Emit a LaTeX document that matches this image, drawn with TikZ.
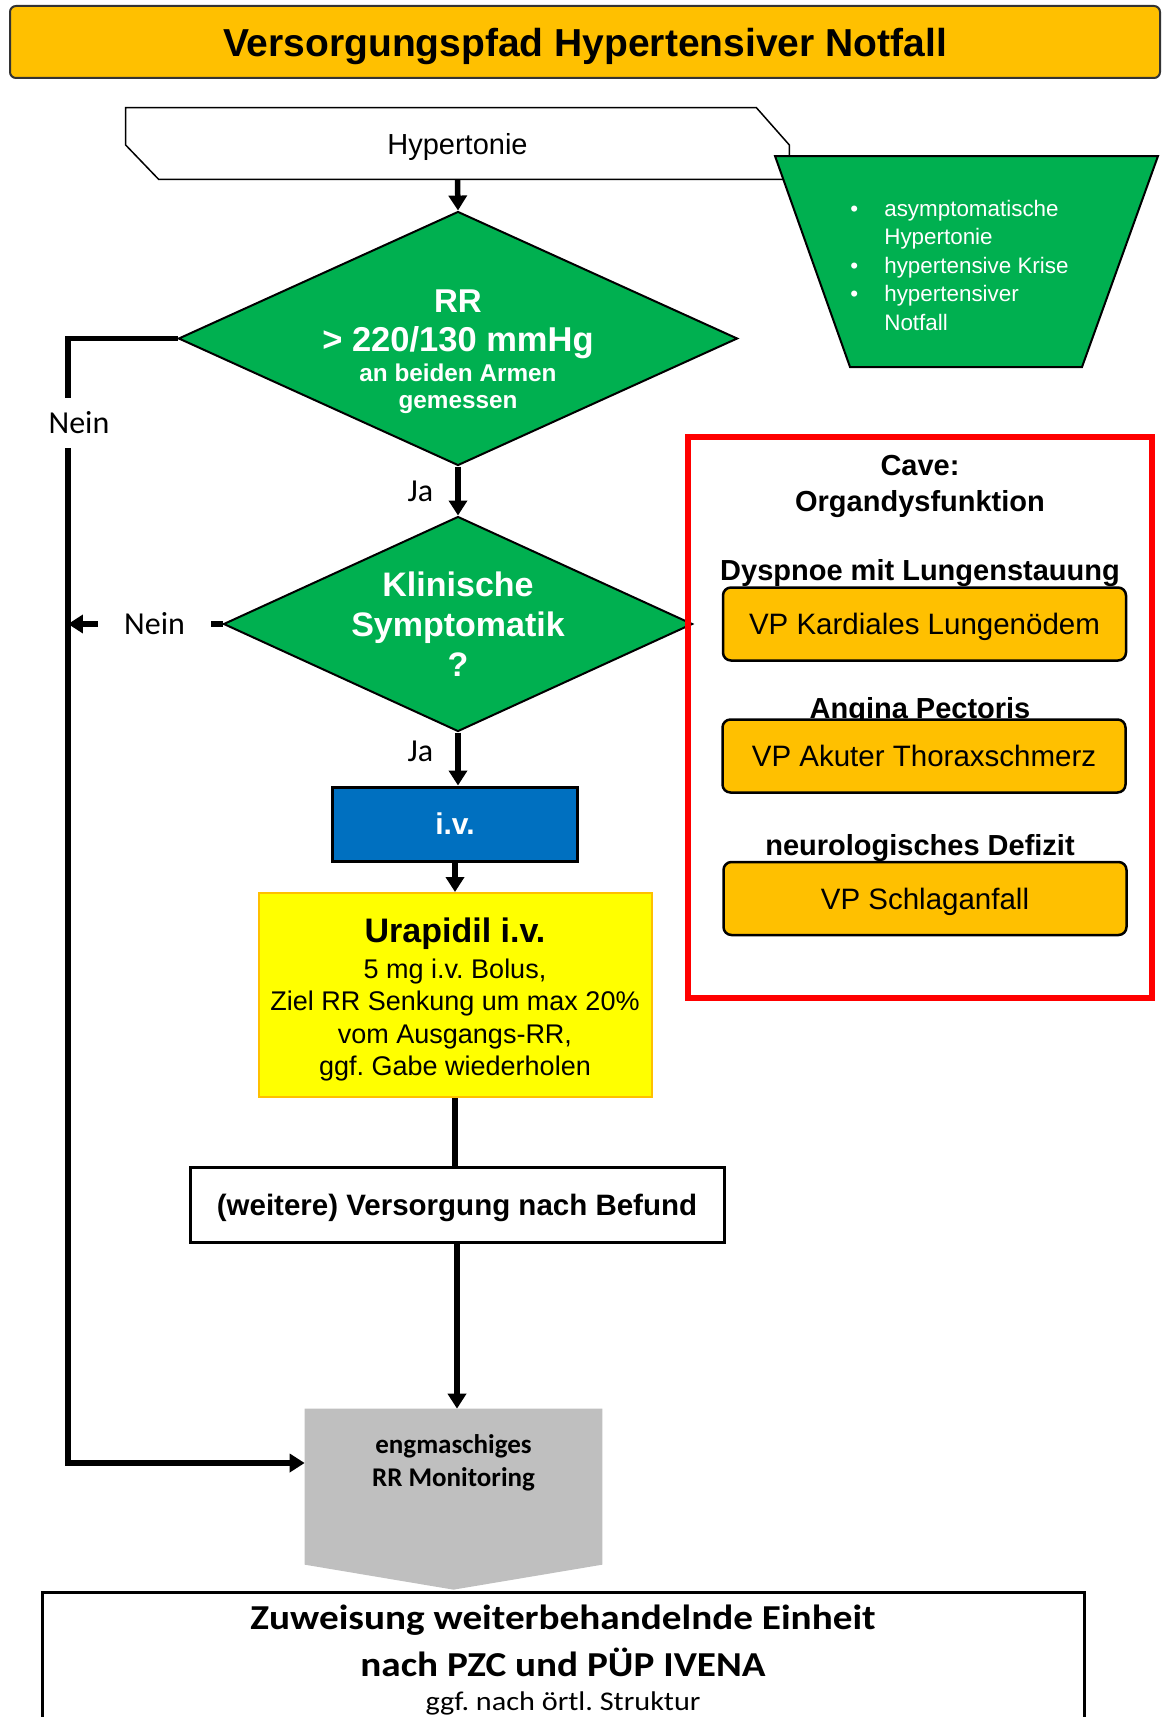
\documentclass[tikz,border=0pt]{standalone}
\usepackage{fontspec}
\setmainfont{Liberation Sans}
\newfontfamily\calibri{Carlito}
\newfontfamily\calibriwide[FakeStretch=1.12]{Carlito}
\usepackage{tikz}
\usetikzlibrary{shapes.geometric, arrows.meta, calc, backgrounds}
\frenchspacing
\newlength{\px}
\setlength{\px}{0.02cm}
\newcommand{\fpx}[2]{\fontsize{#1\px}{#2\px}\selectfont}
\definecolor{ambar}{HTML}{FFC000}
\definecolor{grn}{HTML}{00B050}
\definecolor{blu}{HTML}{0070C0}
\definecolor{gelb}{HTML}{FFFF00}
\definecolor{grau}{HTML}{BFBFBF}
\tikzstyle{decision} = [diamond, aspect=2.2, draw=black, line width=2\px, fill=grn, inner sep=0pt, text=white, align=center]
\tikzstyle{process} = [rectangle, draw=black, line width=3\px, inner sep=0pt, align=center]
\tikzstyle{vpbox} = [rectangle, rounded corners=8\px, draw=black, line width=2.5\px, fill=ambar, minimum width=403\px, minimum height=73\px, text depth=0pt, font=\fpx{29.5}{34}]
\tikzstyle{cavetext} = [font=\bfseries\fpx{29}{36}, align=center, inner sep=0pt]
\tikzstyle{lbl} = [font=\calibri\fpx{32}{36}, inner sep=2\px]
\tikzstyle{arrow} = [line width=5.5\px, ->, >={Triangle[length=8.5pt, width=10.2pt]}]
\tikzstyle{plainline} = [line width=5.5\px]

\begin{document}
\begin{tikzpicture}[x=1\px, y=-1\px]
	\useasboundingbox (0,0) rectangle (1162,1717);
	\clip (0,0) rectangle (1162,1717);
	\node (title) [rectangle, rounded corners=6\px, draw=black!80, line width=2\px, fill=ambar, minimum width=1150\px, minimum height=72\px, text depth=0pt, font=\bfseries\fpx{39}{44}] at (585,42) {Versorgungspfad Hypertensiver Notfall};
	\node (hyp) [minimum width=663\px, minimum height=71\px, inner sep=0pt, text depth=0pt, font=\fpx{29}{34}] at (457.5,143.5) {Hypertonie};
	\node (typen) [anchor=west, inner sep=0pt, align=left, text=white, font=\fpx{22.4}{28.5}] at (850,265) {\makebox[34\px][l]{\textbullet}asymptomatische\\\hspace*{34\px}Hypertonie\\\makebox[34\px][l]{\textbullet}hypertensive Krise\\\makebox[34\px][l]{\textbullet}hypertensiver\\\hspace*{34\px}Notfall};
	\node (d1) [decision, minimum width=559\px, minimum height=254\px] at (458,338.5) {};
	\node (d1t) [align=center, inner sep=0pt, text=white, font=\bfseries\fpx{34.5}{27}] at (458,352) {{\fpx{33}{27}RR}\\[12\px]> 220/130 mmHg\\[3\px]{\fpx{24.3}{27}an beiden Armen}\\{\fpx{24.3}{27}gemessen}};
	\node (d2) [decision, minimum width=469\px, minimum height=215\px, font=\bfseries\fpx{34}{40}] at (458,624) {Klinische\\Symptomatik\\?};
	\node (iv) [process, fill=blu, minimum width=245\px, minimum height=74\px, text=white, font=\bfseries\fpx{30}{34}] at (455,824) {i.v.};
	\node (ura) [process, fill=gelb, draw=ambar, line width=2\px, minimum width=393\px, minimum height=204\px, font=\fpx{27}{32.5}] at (455,995) {{\bfseries\fpx{34}{32.5}\rule{0pt}{34\px}Urapidil i.v.}\\[3.5\px]5 mg i.v. Bolus,\\Ziel RR Senkung um max 20\%\\vom Ausgangs-RR,\\ggf. Gabe wiederholen};
	\node (wei) [process, fill=white, minimum width=534\px, minimum height=75\px, text depth=0pt, font=\bfseries\fpx{29.5}{34}] at (457,1204.5) {(weitere) Versorgung nach Befund};
	\node (mon) [minimum width=297\px, minimum height=108\px, inner sep=0pt, align=center, font=\calibri\bfseries\fpx{27}{33}] at (453.5,1463) {engmaschiges\\RR Monitoring};
	\node (zuw) [rectangle, draw=black, line width=3\px, anchor=north, minimum width=1042\px, minimum height=135\px, inner sep=0pt, align=center, font=\calibriwide\fpx{35}{47}] at (563,1591) {{\bfseries Zuweisung weiterbehandelnde Einheit}\\{\bfseries nach PZC und PÜP IVENA}\\[-13\px]{\fpx{27}{30}ggf. nach örtl. Struktur}};
	% Cave box
	\node (cave) [rectangle, draw=red, line width=6\px, minimum width=464\px, minimum height=561\px] at (920,717.5) {};
	\node (cavet) [cavetext] at (920,486) {Cave:\\Organdysfunktion};
	\node (lab1) [cavetext] at (920,573) {Dyspnoe mit Lungenstauung};
	\node (lab2) [cavetext] at (920,711) {Angina Pectoris};
	\node (lab3) [cavetext] at (920,848) {neurologisches Defizit};
	\node (vp1) [vpbox] at (924.5,624) {VP Kardiales Lungenödem};
	\node (vp2) [vpbox] at (924,756) {VP Akuter Thoraxschmerz};
	\node (vp3) [vpbox] at (925,898.5) {VP Schlaganfall};
	% connectors
	\coordinate (nk) at (68,338.5);
	\draw [arrow] (hyp.south) -- (d1.north);
	\draw [arrow] (d1.south) -- node[lbl, anchor=east, xshift=-20\px] (ja1) {Ja} (d2.north);
	\draw [arrow] (d2.south) -- node[lbl, anchor=east, xshift=-20\px, pos=0.35] (ja2) {Ja} (d2.south |- iv.north);
	\draw [arrow] (iv.south) -- (iv.south |- ura.north);
	\draw [plainline] (ura.south) -- (ura.south |- wei.north);
	\draw [arrow] (wei.south) -- (wei.south |- mon.north);
	\draw [arrow] (d1.west) -- (nk) |- (mon.west);
	\node (nein1) [lbl, fill=white, inner sep=14\px] at (79,423) {Nein};
	\draw [arrow] (d2.west) -- node[lbl, fill=white, inner xsep=26\px, pos=0.44] (nein2) {Nein} (d2.west -| nk);
	% outline shapes
	\begin{scope}[on background layer]
		\draw [line width=1.5\px, fill=white] (hyp.north west) -- ($(hyp.north east)+(-33,0)$) -- ($(hyp.east)+(0,1.5)$) -- (hyp.south east) -- ($(hyp.south west)+(33,0)$) -- ($(hyp.west)+(0,1.5)$) -- cycle;
		\draw [line width=2\px, fill=grn] (775,156) -- (1158,156) -- (1082,367) -- (850,367) -- cycle;
		\fill [grau] (mon.north west) -- (mon.north east) -- ++(0,156) -- ($(mon.north)+(0,181)$) -- ($(mon.north west)+(0,156)$) -- cycle;
	\end{scope}
\end{tikzpicture}
\end{document}
